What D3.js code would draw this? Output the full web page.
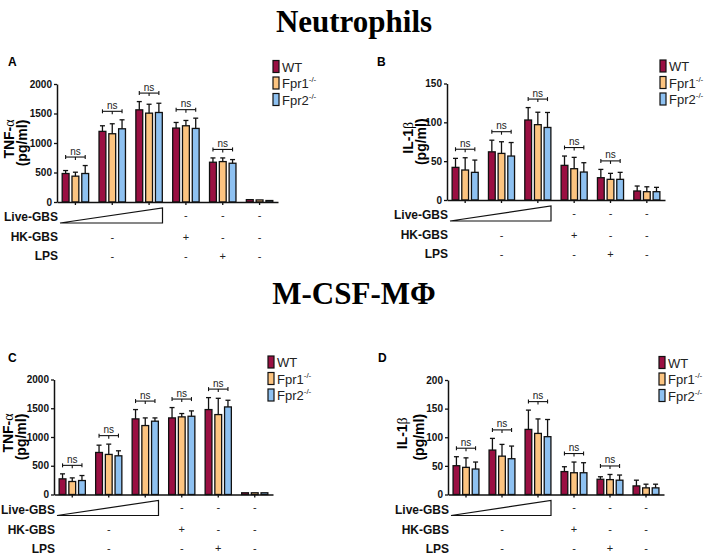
<!DOCTYPE html>
<html>
<head>
<meta charset="utf-8">
<script src="https://cdn.jsdelivr.net/npm/d3@7"></script>
<style>
  body { margin: 0; background: #fff; }
  svg { display: block; font-family: Arial, "Liberation Sans", sans-serif; }
</style>
</head>
<body>
<svg id="fig" width="709" height="556"></svg>
<script>
// series and their colours
const series = ["WT", "Fpr1", "Fpr2"];
const seriesColors = ["#9a0f42", "#fcc480", "#8ec1f1"];
const groups = ["live1", "live2", "live3", "hk", "lps", "none"];

// treatment rows under the x axis
const liveSigns = ["", "", "", "-", "-", "-"];
const hkSigns = ["", "-", "", "+", "-", "-"];
const lpsSigns = ["", "-", "", "-", "+", "-"];

// A: neutrophils TNF-a (pg/ml)
const neutTnfMean = [
  [483, 1197, 1562, 1253, 674, 40],
  [438, 1157, 1506, 1292, 685, 35],
  [483, 1241, 1517, 1247, 657, 25]
];
const neutTnfErr = [
  [50, 95, 140, 95, 73, 0],
  [67, 169, 151, 90, 62, 0],
  [135, 152, 157, 174, 62, 0]
];

// B: neutrophils IL-1b (pg/ml)
const neutIlMean = [
  [42, 62, 103, 44.6, 28.7, 11.6],
  [38.6, 60, 97, 40.3, 26.6, 10.7],
  [35.6, 56.6, 93.4, 36, 26.6, 10.7]
];
const neutIlErr = [
  [11.6, 15, 16, 12, 10.7, 6.4],
  [15.8, 15, 16, 14.6, 7.7, 6.3],
  [15.8, 17.4, 19.3, 12, 9, 5.6]
];

// C: M-CSF macrophages TNF-a (pg/ml)
const macTnfMean = [
  [272, 731, 1315, 1332, 1477, 30],
  [226, 697, 1199, 1350, 1390, 30],
  [243, 673, 1275, 1361, 1523, 30]
];
const macTnfErr = [
  [87, 127, 162, 180, 208, 0],
  [63, 179, 133, 58, 283, 0],
  [87, 87, 57, 93, 116, 0]
];

// D: M-CSF macrophages IL-1b (pg/ml)
const macIlMean = [
  [50.3, 77.6, 113.7, 40, 26.6, 15],
  [47.4, 67, 106.7, 38, 26, 11.6],
  [44.5, 62.5, 101, 38, 25, 11.6]
];
const macIlErr = [
  [15.7, 20.4, 33.7, 8.5, 4.4, 10],
  [16.6, 20.5, 25.3, 18.7, 9, 6.4],
  [12.2, 22.1, 30, 17.5, 9, 6.4]
];

const tnfTicks = [0, 500, 1000, 1500, 2000];
const neutIlTicks = [0, 50, 100, 150];
const macIlTicks = [0, 50, 100, 150, 200];

const svg = d3.select("#fig");

// section titles
svg.append("text").attr("x", 354).attr("y", 32).attr("text-anchor", "middle")
  .attr("font-family", "'Liberation Serif', 'Times New Roman', serif")
  .attr("font-weight", "bold").attr("font-size", 31).text("Neutrophils");
svg.append("text").attr("x", 354).attr("y", 304).attr("text-anchor", "middle")
  .attr("font-family", "'Liberation Serif', 'Times New Roman', serif")
  .attr("font-weight", "bold").attr("font-size", 31).text("M-CSF-MΦ");

function drawPanel(p) {
  const g = svg.append("g");

  const x = d3.scaleBand().domain(groups).range([p.left, p.right]);
  const xs = d3.scaleBand().domain(series).range([0, x.bandwidth()])
    .paddingInner(0.3).paddingOuter(0.53);
  const y = d3.scaleLinear().domain([0, p.max]).range([p.zero, p.top]);

  // panel letter
  g.append("text").attr("x", p.letterX).attr("y", p.top - 18)
    .attr("font-weight", "bold").attr("font-size", 12).text(p.letter);

  // bars
  series.forEach((s, si) => {
    g.append("g").selectAll("rect").data(p.mean[si]).join("rect")
      .attr("x", (d, i) => x(groups[i]) + xs(s))
      .attr("y", (d) => y(d))
      .attr("width", xs.bandwidth())
      .attr("height", (d) => y(0) - y(d))
      .attr("fill", seriesColors[si])
      .attr("stroke", "#111")
      .attr("stroke-width", 1.3);

    // upper error bars
    p.mean[si].forEach((m, i) => {
      const e = p.err[si][i];
      if (!e) return;
      const cx = x(groups[i]) + xs(s) + xs.bandwidth() / 2;
      g.append("line").attr("x1", cx).attr("x2", cx)
        .attr("y1", y(m)).attr("y2", y(m + e))
        .attr("stroke", "#111").attr("stroke-width", 1.3);
      g.append("line").attr("x1", cx - 2.5).attr("x2", cx + 2.5)
        .attr("y1", y(m + e)).attr("y2", y(m + e))
        .attr("stroke", "#111").attr("stroke-width", 1.3);
    });
  });

  // "ns" brackets over the first five groups
  groups.slice(0, 5).forEach((grp, i) => {
    const top = d3.max(series, (s, si) => p.mean[si][i] + p.err[si][i]);
    const by = y(top) - 8.5;
    const x1 = x(grp) + xs(series[0]) + xs.bandwidth() / 2;
    const x2 = x(grp) + xs(series[2]) + xs.bandwidth() / 2;
    const xm = (x1 + x2) / 2;
    const br = g.append("g").attr("stroke", "#111").attr("stroke-width", 1.1);
    br.append("line").attr("x1", x1).attr("x2", x2).attr("y1", by).attr("y2", by);
    br.append("line").attr("x1", x1).attr("x2", x1).attr("y1", by - 2).attr("y2", by + 2);
    br.append("line").attr("x1", x2).attr("x2", x2).attr("y1", by - 2).attr("y2", by + 2);
    br.append("line").attr("x1", xm).attr("x2", xm).attr("y1", by).attr("y2", by + 3);
    g.append("text").attr("x", xm).attr("y", by - 2.5).attr("text-anchor", "middle")
      .attr("font-size", 10).attr("fill", "#222").text("ns");
  });

  // axes
  const yAxis = g.append("g").attr("transform", `translate(${p.left},0)`)
    .call(d3.axisLeft(y).tickValues(p.ticks).tickFormat(d3.format("d"))
      .tickSize(3).tickSizeOuter(0).tickPadding(2));
  const xAxis = g.append("g").attr("transform", `translate(0,${p.zero})`)
    .call(d3.axisBottom(x).tickSize(3).tickSizeOuter(0).tickFormat(""));
  [yAxis, xAxis].forEach((a) => {
    a.select(".domain").attr("stroke", "#111").attr("stroke-width", 1.5);
    a.selectAll(".tick line").attr("stroke", "#111").attr("stroke-width", 1.3);
  });
  yAxis.selectAll(".tick text").attr("font-size", 10).attr("font-weight", "bold")
    .attr("font-family", "Arial, 'Liberation Sans', sans-serif").attr("fill", "#111");

  // y axis title, two rotated lines
  const midY = (p.zero + p.top) / 2;
  const t1 = g.append("text").attr("transform", `translate(${p.labelX[0]},${midY - 4}) rotate(-90)`)
    .attr("text-anchor", "middle").attr("dy", "0.35em")
    .attr("font-size", 14).attr("font-weight", "bold");
  t1.append("tspan").text(p.yName);
  t1.append("tspan").attr("font-weight", "normal")
    .attr("font-family", "'Liberation Serif', 'Times New Roman', serif").text(p.yGreek);
  g.append("text").attr("transform", `translate(${p.labelX[1]},${midY}) rotate(-90)`)
    .attr("text-anchor", "middle").attr("dy", "0.35em")
    .attr("font-size", 14).attr("font-weight", "bold").text("(pg/ml)");

  // legend
  const lg = g.append("g");
  series.forEach((s, si) => {
    const ly = p.top - 17.5 + si * 16.5;
    lg.append("rect").attr("x", p.right - 5).attr("y", ly - 6).attr("width", 6).attr("height", 12)
      .attr("fill", seriesColors[si]).attr("stroke", "#111").attr("stroke-width", 1.2);
    const lt = lg.append("text").attr("x", p.right + 4).attr("y", ly + 5)
      .attr("font-size", 13).attr("fill", "#222");
    lt.append("tspan").text(s);
    if (si > 0) lt.append("tspan").attr("font-size", 8).attr("dy", -6).text("-/-");
  });

  // treatment rows
  const rows = [
    { name: "Live-GBS", dy: 15, signs: liveSigns, signDy: 13 },
    { name: "HK-GBS", dy: 35, signs: hkSigns, signDy: 35 },
    { name: "LPS", dy: 54, signs: lpsSigns, signDy: 54 }
  ];
  rows.forEach((r) => {
    g.append("text").attr("x", p.left + 1).attr("y", p.zero + r.dy).attr("dy", "0.35em")
      .attr("text-anchor", "end").attr("font-size", 12).attr("font-weight", "bold")
      .attr("fill", "#111").text(r.name);
    g.append("g").selectAll("text").data(r.signs).join("text")
      .attr("x", (d, i) => x(groups[i]) + x.bandwidth() / 2)
      .attr("y", p.zero + r.signDy).attr("dy", "0.35em")
      .attr("text-anchor", "middle").attr("font-size", 11).attr("fill", "#222")
      .text((d) => d);
  });

  // increasing dose wedge under the three live-GBS groups
  const wx1 = p.left + 3;
  const wx2 = x(groups[2]) + x.bandwidth() - 5;
  g.append("path")
    .attr("d", `M${wx1},${p.zero + 21}L${wx2},${p.zero + 6}L${wx2},${p.zero + 21}Z`)
    .attr("fill", "none").attr("stroke", "#111").attr("stroke-width", 1.2);
}

drawPanel({ letter: "A", letterX: 8, left: 57, right: 278, zero: 202, top: 84, max: 2000,
  ticks: tnfTicks, mean: neutTnfMean, err: neutTnfErr, yName: "TNF-", yGreek: "α", labelX: [9, 22] });
drawPanel({ letter: "B", letterX: 377, left: 447, right: 665, zero: 200, top: 83.5, max: 150,
  ticks: neutIlTicks, mean: neutIlMean, err: neutIlErr, yName: "IL-1", yGreek: "β", labelX: [408, 421] });
drawPanel({ letter: "C", letterX: 8, left: 54, right: 273, zero: 494.5, top: 379.5, max: 2000,
  ticks: tnfTicks, mean: macTnfMean, err: macTnfErr, yName: "TNF-", yGreek: "α", labelX: [8, 21] });
drawPanel({ letter: "D", letterX: 378, left: 448, right: 664, zero: 494.5, top: 380, max: 200,
  ticks: macIlTicks, mean: macIlMean, err: macIlErr, yName: "IL-1", yGreek: "β", labelX: [402, 419] });
</script>
</body>
</html>
